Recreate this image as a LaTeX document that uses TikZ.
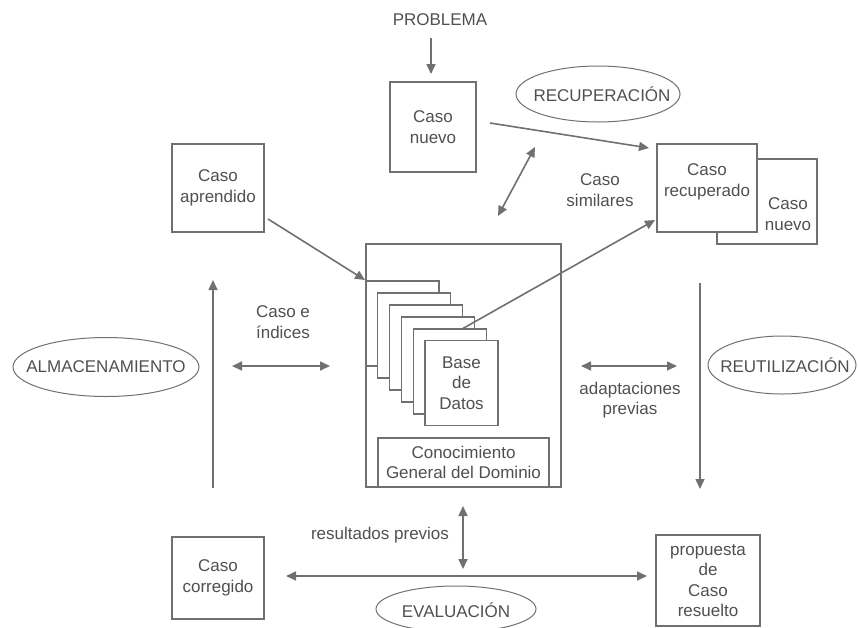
\documentclass[tikz,border=0pt]{standalone}
\usepackage{fontspec}
\setmainfont{Liberation Sans}
\usetikzlibrary{arrows.meta,shapes.geometric}
\definecolor{ln}{RGB}{112,112,112}
\definecolor{tx}{RGB}{80,80,80}
\begin{document}
\begin{tikzpicture}[x=1pt,y=-1pt,
  every node/.style={text=tx, font=\fontsize{17}{20.5}\selectfont, align=center, inner sep=0pt},
  box/.style={draw=ln, line width=1.2pt, fill=white, rectangle},
  oval/.style={draw=ln, line width=1pt, ellipse},
  arr/.style={draw=ln, line width=1.6pt, -{Triangle[length=10pt,width=9pt]}},
  dbl/.style={draw=ln, line width=1.6pt, {Triangle[length=10pt,width=9pt]}-{Triangle[length=10pt,width=9pt]}}]
\useasboundingbox (0,0) rectangle (858,627);

% ---- top: problem and new case
\node (problema) at (440,20) {PROBLEMA};
\node[box, minimum width=86pt, minimum height=90pt] (nuevo) at (433,127) {Caso\\nuevo};
\node[oval, minimum width=164pt, minimum height=56pt] (recuperacion) at (598,94) {};
\node (recuperacionT) at (602,94) {RECUPERACIÓN};

% ---- retrieved case (stacked on a second new case)
\node[box, minimum width=100pt, minimum height=85pt] (nuevoB) at (767,201.5) {};
\node (nuevoBT) at (788,214) {Caso\\nuevo};
\node[box, minimum width=100pt, minimum height=88pt] (recup) at (707,188) {};
\node (recupT) at (707,182) {Caso\\recuperado};
\node (similares) at (600,190) {Caso\\similares};

% ---- learned case
\node[box, minimum width=92pt, minimum height=88pt] (aprendido) at (218,188) {Caso\\aprendido};

% ---- central knowledge base
\node[box, minimum width=195pt, minimum height=243pt] (db) at (463.5,365.5) {};
\foreach \i in {0,...,4}{
  \node[box, minimum width=73pt, minimum height=85pt] (pg\i)
    at ({366+11.8*\i+36.5},{281+12*\i+42.5}) {};
}
\node[box, minimum width=73pt, minimum height=85pt] (pg5) at (461.5,383) {Base\\de\\Datos};
\node[box, minimum width=171pt, minimum height=49pt] (conoc) at (463.5,462.5) {Conocimiento\\General del Dominio};

% ---- side phases
\node[oval, minimum width=186pt, minimum height=59pt] (almacen) at (106,367) {};
\node (almacenT) at (106,367) {ALMACENAMIENTO};
\node (indices) at (283,322) {Caso e\\índices};
\node[oval, minimum width=148pt, minimum height=58pt] (reutil) at (782,365) {};
\node (reutilT) at (785,365) {REUTILIZACIÓN};
\node (adapt) at (630,400) {adaptaciones\\previas};

% ---- bottom row
\node[box, minimum width=92pt, minimum height=82pt] (corregido) at (218,578) {Caso\\corregido};
\node[box, minimum width=104pt, minimum height=91pt] (propuesta) at (708,580.5) {propuesta\\de\\Caso\\resuelto};
\node (resultados) at (380,535) {resultados previos};
\node[oval, minimum width=160pt, minimum height=46pt] (evaluacion) at (456,609) {};
\node (evaluacionT) at (456,610) {EVALUACIÓN};

% ---- connector end points
\coordinate (probA) at (431,38);   \coordinate (probB) at (431,74);
\coordinate (nueA) at (490,123);   \coordinate (nueB) at (649,148);
\coordinate (simA) at (498,216);   \coordinate (simB) at (535,147);
\coordinate (aprA) at (268,219);   \coordinate (aprB) at (365,280);
\coordinate (dbA) at (462,329);    \coordinate (dbB) at (655,220);
\coordinate (almA) at (213,488);   \coordinate (almB) at (213,280);
\coordinate (indA) at (232,366);   \coordinate (indB) at (330,366);
\coordinate (adA) at (581,366);    \coordinate (adB) at (677,366);
\coordinate (reuA) at (700,283);   \coordinate (reuB) at (700,489);
\coordinate (evA) at (286,576);    \coordinate (evB) at (647,576);
\coordinate (resA) at (463,506);   \coordinate (resB) at (463,569);

% ---- connectors
\draw[arr] (probA) -- (probB);
\draw[arr] (nueA) -- (nueB);
\draw[dbl] (simA) -- (simB);
\draw[arr] (aprA) -- (aprB);
\draw[arr] (dbA) -- (dbB);
\draw[arr] (almA) -- (almB);
\draw[dbl] (indA) -- (indB);
\draw[dbl] (adA) -- (adB);
\draw[arr] (reuA) -- (reuB);
\draw[dbl] (evA) -- (evB);
\draw[dbl] (resA) -- (resB);
\end{tikzpicture}
\end{document}
